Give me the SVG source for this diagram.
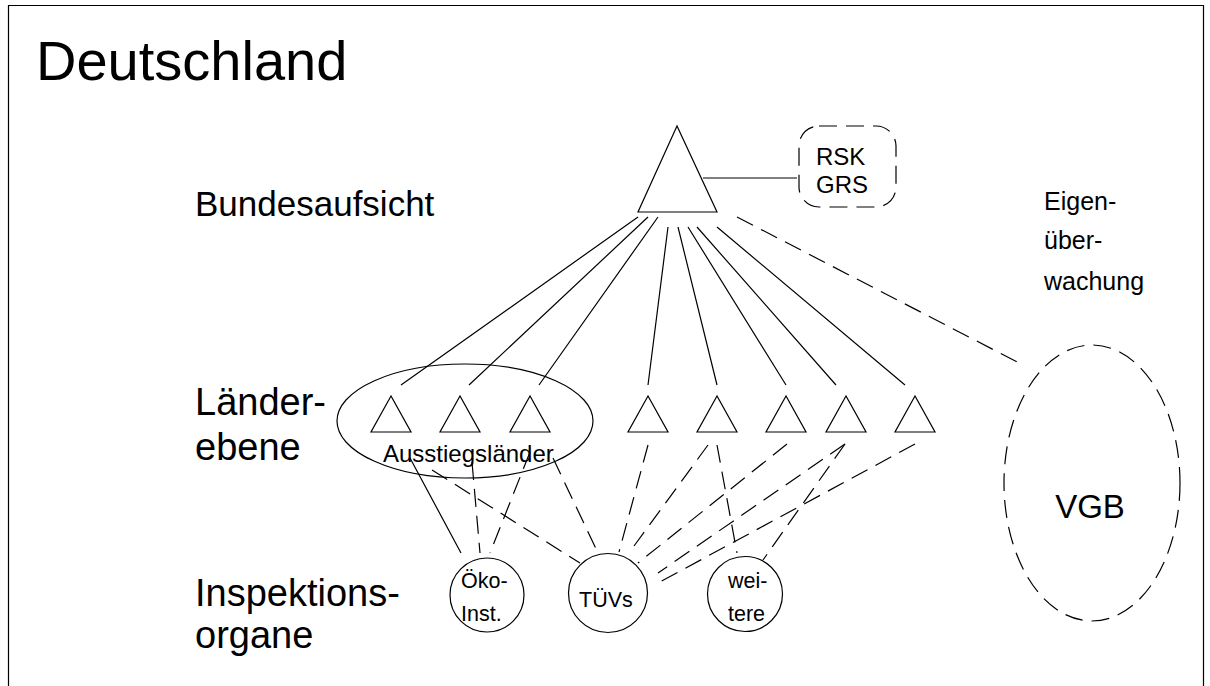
<svg xmlns="http://www.w3.org/2000/svg" xmlns:xlink="http://www.w3.org/1999/xlink" width="1210" height="686" viewBox="0 0 1210 686">
<style>
text{font-family:"Liberation Sans",Arial,sans-serif;fill:#000}
.s{fill:none;stroke:#000;stroke-width:1.2}
.d{fill:none;stroke:#000;stroke-width:1.2;stroke-dasharray:18,9}
.lbl{font-size:38px}
.sm{font-size:21.5px}
</style>
<defs>
<polygon id="tri" points="0,0 -20,36 20,36" fill="#fff" stroke="#000" stroke-width="1.2"/>
</defs>
<rect width="1210" height="686" fill="#fff"/>
<path class="s" d="M8.5,686 V5.5 H1203.5 V686" stroke="#444"/>
<text x="36" y="80" font-size="56">Deutschland</text>
<g id="labels">
<text x="195" y="216" font-size="35">Bundesaufsicht</text>
<text class="lbl" x="195" y="415">Länder-</text>
<text class="lbl" x="195" y="460">ebene</text>
<text class="lbl" x="195" y="606">Inspektions-</text>
<text class="lbl" x="195" y="648">organe</text>
<text x="1044" y="210" font-size="25">Eigen-</text>
<text x="1044" y="249" font-size="25">über-</text>
<text x="1044" y="290" font-size="25">wachung</text>
</g>
<g id="connectors">
<path class="s" d="M638,217 L401,385 M648,217 L469,385 M658,217 L539,385 M668,227 L648,385 M678,227 L717,385 M688,227 L786,385 M697,227 L836,385 M717,227 L905,385 M703,178 L797,178 M410,458 L461,553"/>
<path class="d" d="M737,217 L1023,365"/>
<path class="d" d="M432,470 L580,563"/>
<path class="d" d="M472,462 L480,553"/>
<path class="d" d="M530,452 L490,553"/>
<path class="d" d="M553,458 L598,553"/>
<path class="d" d="M648,445 L619,552"/>
<path class="d" d="M708,445 L634,546"/>
<path class="d" d="M717,445 L737,553"/>
<path class="d" d="M787,444 L638,563"/>
<path class="d" d="M845,444 L658,573"/>
<path class="d" d="M845,444 L763,560"/>
<path class="d" d="M915,444 L658,583"/>
</g>
<g id="bund"><polygon points="677,126 638,212 717,212" fill="none" stroke="#000" stroke-width="1.2"/></g>
<g id="rsk">
<rect class="d" x="799" y="126" width="97" height="81" rx="20"/>
<text x="816" y="165" font-size="24">RSK</text>
<text x="816" y="193" font-size="24">GRS</text>
</g>
<g id="ausstieg">
<ellipse class="s" cx="465" cy="421" rx="128" ry="57"/>
<text x="383" y="462" font-size="24">Ausstiegsländer</text>
</g>
<g id="laender">
<use xlink:href="#tri" x="391" y="396"/>
<use xlink:href="#tri" x="460" y="396"/>
<use xlink:href="#tri" x="530" y="396"/>
<use xlink:href="#tri" x="648" y="396"/>
<use xlink:href="#tri" x="717" y="396"/>
<use xlink:href="#tri" x="786" y="396"/>
<use xlink:href="#tri" x="846" y="396"/>
<use xlink:href="#tri" x="915" y="396"/>
</g>
<g id="oeko">
<circle class="s" cx="487" cy="595" r="37"/>
<text class="sm" x="461" y="588">Öko-</text>
<text class="sm" x="461" y="621">Inst.</text>
</g>
<g id="tuev">
<circle class="s" cx="608" cy="593" r="39.5"/>
<text class="sm" x="579" y="607">TÜVs</text>
</g>
<g id="weitere">
<circle class="s" cx="745" cy="594" r="37.5"/>
<text class="sm" x="728" y="588">wei-</text>
<text class="sm" x="728" y="621">tere</text>
</g>
<g id="vgb">
<ellipse class="d" cx="1092" cy="483" rx="88" ry="138"/>
<text x="1090" y="518" font-size="33" text-anchor="middle">VGB</text>
</g>
</svg>
